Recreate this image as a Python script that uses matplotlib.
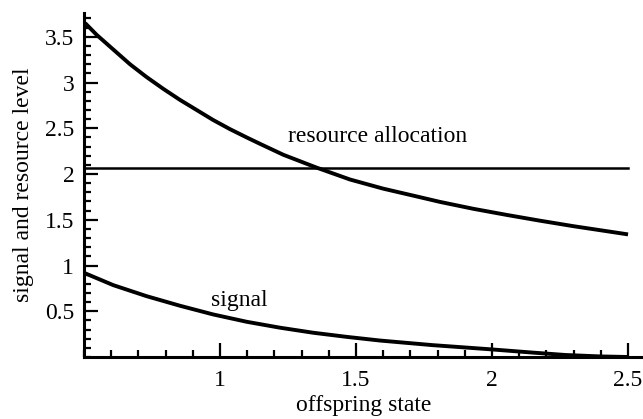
import matplotlib
matplotlib.use("Agg")
import matplotlib.pyplot as plt
from matplotlib.ticker import MultipleLocator, FixedLocator

plt.rcParams['font.family'] = ['Liberation Serif', 'DejaVu Serif']

# data
res_x = [0.504, 0.547, 0.608, 0.669, 0.730, 0.792, 0.853, 0.914, 0.975, 1.037, 1.098,
         1.147, 1.233, 1.355, 1.478, 1.600, 1.723, 1.809, 1.931, 2.054, 2.176, 2.299,
         2.422, 2.5]
res_y = [3.65, 3.52, 3.36, 3.20, 3.06, 2.93, 2.81, 2.70, 2.59, 2.49, 2.40,
         2.33, 2.21, 2.07, 1.94, 1.84, 1.755, 1.695, 1.62, 1.553, 1.49, 1.43,
         1.375, 1.34]
sig_x = [0.5, 0.608, 0.730, 0.853, 0.975, 1.098, 1.221, 1.343, 1.466, 1.588,
         1.78, 1.99, 2.15, 2.27, 2.4, 2.5]
sig_y = [0.92, 0.785, 0.665, 0.56, 0.465, 0.385, 0.32, 0.265, 0.22, 0.18,
         0.13, 0.085, 0.048, 0.022, 0.006, 0.0]
alloc_x = [0.5, 2.5]
alloc_y = [2.07, 2.07]
xticks = [1, 1.5, 2, 2.5]
xticklabels = ["1", "1.5", "2", "2.5"]
yticks = [0.5, 1, 1.5, 2, 2.5, 3, 3.5]
yticklabels = ["0.5", "1", "1.5", "2", "2.5", "3", "3.5"]

fig = plt.figure(figsize=(6.43, 4.19), dpi=100)
ax = fig.add_axes([84/643, 62/419, 1 - 84/643, (357-13)/419])

ax.plot(res_x, res_y, color='black', lw=2.8, solid_capstyle='butt', solid_joinstyle='round')
ax.plot(sig_x, sig_y, color='black', lw=2.8, solid_capstyle='butt', solid_joinstyle='round')
ax.plot(alloc_x, alloc_y, color='black', lw=1.8)

ax.set_xlim(0.5, 2.555)
ax.set_ylim(0, 3.76)

ax.spines['top'].set_visible(False)
ax.spines['right'].set_visible(False)
ax.spines['left'].set_linewidth(2.2)
ax.spines['bottom'].set_linewidth(2.2)

ax.xaxis.set_major_locator(FixedLocator(xticks))
ax.set_xticklabels(xticklabels)
ax.xaxis.set_minor_locator(MultipleLocator(0.1))
ax.yaxis.set_major_locator(FixedLocator(yticks))
ax.set_yticklabels(yticklabels)
ax.yaxis.set_minor_locator(MultipleLocator(0.1))

ax.tick_params(which='major', direction='in', length=10, width=1.6, labelsize=17)
ax.tick_params(axis='y', which='major', pad=7)
ax.tick_params(axis='x', which='major', pad=9)
ax.tick_params(which='minor', direction='in', length=5, width=1.6)

ax.set_xlabel("offspring state", fontsize=17, labelpad=3)
ax.set_ylabel("signal and resource level", fontsize=17, labelpad=8)

ax.text(1.58, 2.41, "resource allocation", fontsize=17, ha='center', va='center')
ax.text(1.07, 0.62, "signal", fontsize=17, ha='center', va='center')

fig.savefig("out.png", dpi=100)
